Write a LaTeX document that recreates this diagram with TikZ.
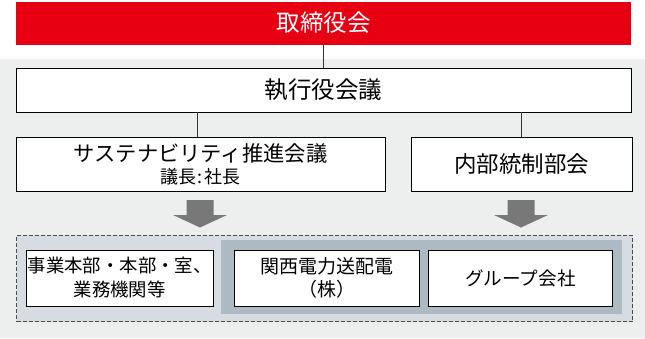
\documentclass[tikz,border=0pt]{standalone}
\usepackage{fontspec}
\setmainfont{Noto Sans CJK JP}
\definecolor{kred}{HTML}{E60012}
\definecolor{bggray}{HTML}{EDEEEE}
\definecolor{paleblue}{HTML}{D6DCE1}
\definecolor{midblue}{HTML}{AEBAC3}
\definecolor{arrgray}{HTML}{787878}
\definecolor{linegray}{HTML}{333333}
\tikzset{
  wbox/.style={draw=black, line width=0.8pt, fill=white, inner sep=0pt, align=center, text=black},
  conn/.style={draw=linegray, line width=0.8pt},
  fatarrow/.style={fill=arrgray, draw=none},
}
\begin{document}
\begin{tikzpicture}[x=1pt,y=-1pt]
\useasboundingbox (0,0) rectangle (645,338);
\fill[white] (0,0) rectangle (645,338);
\fill[bggray] (0,58.5) rectangle (645,338);
% board
\node[fill=kred, inner sep=0pt, minimum width=615pt, minimum height=43pt, text=white,
  font=\fontsize{23.5}{27}\selectfont] (board) at (323.5,23) {取締役会};
% executive
\node[wbox, minimum width=615pt, minimum height=44pt, font=\fontsize{23.5}{27}\selectfont] (exec) at (323.5,90) {執行役会議};
% second row
\node[wbox, minimum width=369pt, minimum height=54pt] (sus) at (200.5,164)
  {\fontsize{21.3}{25}\selectfont サステナビリティ推進会議\\[4pt]\fontsize{18}{21}\selectfont 議長\hspace{1.5pt}:\hspace{1.5pt}社長};
\node[wbox, minimum width=221pt, minimum height=54pt, font=\fontsize{22.5}{26}\selectfont] (ic) at (521.5,164) {内部統制部会};
% connectors
\draw[conn] (board.south) -- (exec.north);
\draw[conn] ([xshift=-3.5pt]sus.north) -- ([xshift=-3.5pt]sus.north |- exec.south);
\draw[conn] (ic.north) -- (ic.north |- exec.south);
% bottom group
\node[draw=black!70, dashed, dash pattern=on 4pt off 2pt, line width=0.8pt, fill=paleblue,
  minimum width=616pt, minimum height=86.5pt, inner sep=0pt] (grp) at (324.5,278.25) {};
\node[fill=midblue, minimum width=401pt, minimum height=74pt, inner sep=0pt] (sub) at (421.5,277) {};
\node[wbox, minimum width=186.5pt, minimum height=56pt, font=\fontsize{18.4}{24}\selectfont] (b1) at (119.75,278)
  {事業本部・本部・室、\\業務機関等};
\node[wbox, minimum width=185pt, minimum height=56pt, font=\fontsize{19}{23.5}\selectfont] (b2) at (327,278)
  {関西電力送配電\\（株）};
\node[wbox, minimum width=184pt, minimum height=56pt, font=\fontsize{18.6}{23}\selectfont] (b3) at (520.5,278)
  {グループ会社};
% fat arrows
\coordinate (a1) at (200,200);
\coordinate (a2) at (521,200);
\foreach \a in {a1,a2}{
  \fill[fatarrow] ([shift={(-13.5,0)}]\a) -- ([shift={(13.5,0)}]\a) -- ([shift={(13.5,15)}]\a)
    -- ([shift={(27,15)}]\a) -- ([shift={(0,27.5)}]\a) -- ([shift={(-27,15)}]\a)
    -- ([shift={(-13.5,15)}]\a) -- cycle;
}
\end{tikzpicture}
\end{document}
